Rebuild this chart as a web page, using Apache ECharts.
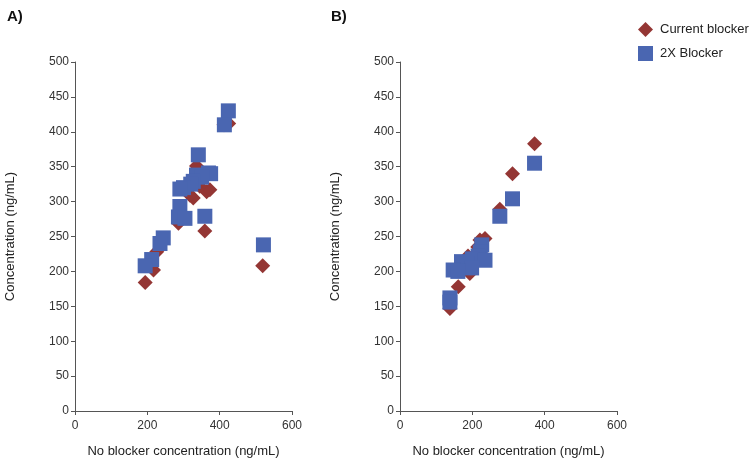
<!DOCTYPE html>
<html lang="en">
<head>
    <meta charset="UTF-8">
    <title>blocker_scatter</title>
    <script src="https://cdn.jsdelivr.net/npm/echarts@6/dist/echarts.min.js"></script>
</head>
<body style="margin:0;background:#fff;">
<div id="chart" style="width:750px;height:461px;"></div>
<script type="text/javascript">
    // 面板 A：当前阻断剂 / 2X 阻断剂
    const aCurrent = [[425, 412], [412, 410], [336, 351], [327, 305], [364, 314], [373, 317], [318, 309],
        [345, 322], [286, 269], [359, 258], [226, 228], [217, 202], [194, 184], [519, 208]];
    const aDouble = [[424, 430], [413, 410], [341, 367], [369, 341], [375, 340], [336, 338], [350, 335],
        [327, 329], [320, 325], [300, 320], [290, 318], [290, 293], [286, 278], [304, 276], [359, 279],
        [244, 248], [235, 240], [212, 217], [194, 208], [521, 238]];
    // 面板 B
    const bCurrent = [[372, 383], [311, 340], [276, 289], [221, 245], [235, 247], [215, 235], [188, 222],
        [200, 212], [175, 205], [193, 197], [161, 178], [138, 147]];
    const bDouble = [[372, 355], [311, 304], [276, 279], [226, 238], [222, 228], [216, 222], [200, 218],
        [235, 216], [170, 214], [185, 210], [198, 205], [147, 202], [160, 200], [138, 162], [138, 156]];

    const xTicks = {min: 0, max: 600, interval: 200};
    const yTicks = {min: 0, max: 500, interval: 50};
    const seriesNames = ['Current blocker', '2X Blocker'];

    const red = '#943634';
    const blue = '#4a66b1';
    const font = 'Liberation Sans, Arial, sans-serif';

    function xAxis(idx) {
        return {
            type: 'value', gridIndex: idx, min: xTicks.min, max: xTicks.max, interval: xTicks.interval,
            name: 'No blocker concentration (ng/mL)', nameLocation: 'middle', nameGap: 34,
            nameTextStyle: {color: '#222', fontSize: 13, fontFamily: font},
            axisLine: {lineStyle: {color: '#555', width: 1}},
            axisTick: {show: true, length: 4, lineStyle: {color: '#555'}},
            axisLabel: {color: '#333', fontSize: 12, fontFamily: font, margin: 9},
            splitLine: {show: false}
        };
    }

    function yAxis(idx) {
        return {
            type: 'value', gridIndex: idx, min: yTicks.min, max: yTicks.max, interval: yTicks.interval,
            name: 'Concentration (ng/mL)', nameLocation: 'middle', nameGap: 58, nameRotate: 90,
            nameTextStyle: {color: '#222', fontSize: 13, fontFamily: font},
            axisLine: {show: true, lineStyle: {color: '#555', width: 1}},
            axisTick: {show: true, length: 4, lineStyle: {color: '#555'}},
            axisLabel: {color: '#333', fontSize: 12, fontFamily: font, margin: 6},
            splitLine: {show: false}
        };
    }

    function scatter(name, data, idx, symbol, color, size) {
        return {
            name: name, type: 'scatter', xAxisIndex: idx, yAxisIndex: idx, data: data,
            symbol: symbol, symbolSize: size,
            itemStyle: {color: color, opacity: 1},
            emphasis: {disabled: true}
        };
    }

    let myChart = echarts.init(document.getElementById('chart'), null, {renderer: 'canvas'});
    myChart.setOption({
        animation: false,
        textStyle: {fontFamily: font},
        title: [
            {text: 'A)', left: 2, top: 4, textStyle: {fontSize: 15, fontWeight: 'bold', color: '#111', fontFamily: font}},
            {text: 'B)', left: 326, top: 4, textStyle: {fontSize: 15, fontWeight: 'bold', color: '#111', fontFamily: font}}
        ],
        legend: {
            orient: 'vertical', left: 633, top: 17, itemGap: 9, itemWidth: 15, itemHeight: 15,
            data: [{name: seriesNames[0], icon: 'diamond'}, {name: seriesNames[1], icon: 'rect'}],
            textStyle: {color: '#222', fontSize: 13, fontFamily: font, padding: [0, 0, 0, 2]}
        },
        grid: [
            {left: 75, top: 62, width: 217, height: 349, outerBoundsMode: 'none'},
            {left: 400, top: 62, width: 217, height: 349, outerBoundsMode: 'none'}
        ],
        xAxis: [xAxis(0), xAxis(1)],
        yAxis: [yAxis(0), yAxis(1)],
        series: [
            scatter(seriesNames[0], aCurrent, 0, 'diamond', red, 15),
            scatter(seriesNames[1], aDouble, 0, 'rect', blue, 15),
            scatter(seriesNames[0], bCurrent, 1, 'diamond', red, 15),
            scatter(seriesNames[1], bDouble, 1, 'rect', blue, 15)
        ]
    });
</script>
</body>
</html>
